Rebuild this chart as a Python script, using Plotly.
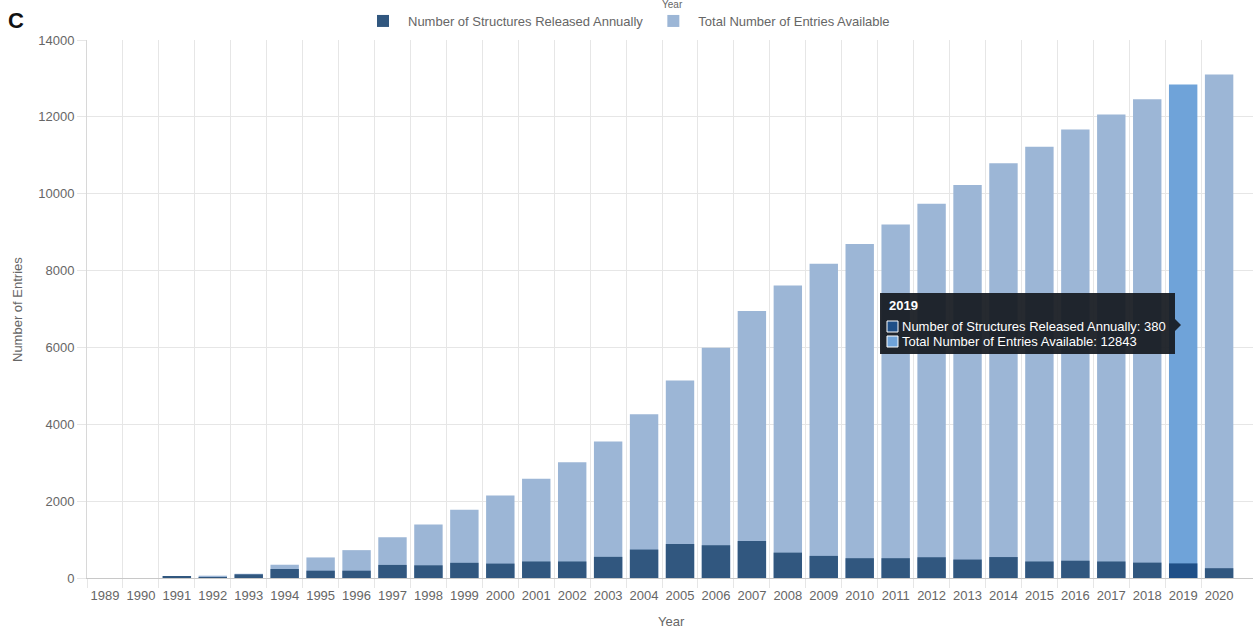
import plotly.graph_objects as go

years = list(range(1989, 2021))
annual = [0, 0, 40, 20, 95, 235, 190, 190, 340, 330, 395, 375, 430, 430, 550, 740,
          885, 850, 965, 660, 575, 515, 515, 540, 480, 545, 430, 450, 430, 400, 380, 255]
total = [0, 0, 40, 60, 110, 345, 535, 725, 1060, 1390, 1775, 2150, 2580, 3010, 3550, 4260,
         5140, 5990, 6950, 7610, 8180, 8690, 9200, 9740, 10230, 10790, 11220, 11670, 12060, 12460, 12843, 13100]
annual_name = "Number of Structures Released Annually"
total_name = "Total Number of Entries Available"
highlight_year = 2019

DARK, LIGHT = "#31577f", "#9cb6d6"
DARK_HI, LIGHT_HI = "#1f4f87", "#6fa3d9"
TIP_BG = "rgba(22,26,32,0.93)"

W, H = 1253, 628
ML, MR, MT, MB = 87, 0, 40, 50
PW, PH = W - ML - MR, H - MT - MB
CELL = 35.94  # pixel width of one year category
x_lo = years[0] - 0.5
x_hi = x_lo + PW / CELL


def px(xp):
    return (xp - ML) / PW


def py(yp):
    return (H - MB - yp) / PH


hi_idx = years.index(highlight_year)
dark_colors = [DARK_HI if y == highlight_year else DARK for y in years]
light_colors = [LIGHT_HI if y == highlight_year else LIGHT for y in years]

fig = go.Figure()
fig.add_trace(go.Bar(x=years, y=total, name=total_name, marker=dict(color=light_colors, line=dict(width=0)),
                     legendrank=2))
fig.add_trace(go.Bar(x=years, y=annual, name=annual_name, marker=dict(color=dark_colors, line=dict(width=0)),
                     legendrank=1))

grid = "#e6e6e6"
font_fam = "Arial, Liberation Sans, sans-serif"
fig.update_layout(
    width=W, height=H,
    barmode="overlay", bargap=0.21,
    margin=dict(l=ML, r=MR, t=MT, b=MB, autoexpand=False),
    paper_bgcolor="white", plot_bgcolor="white",
    font=dict(family=font_fam, size=13, color="#666"),
    legend=dict(orientation="h", xref="container", x=0.5, xanchor="center",
                yref="container", y=1 - 21 / H, yanchor="middle",
                font=dict(size=13, color="#666"), itemwidth=40, traceorder="normal"),
    showlegend=True,
)
fig.update_xaxes(
    range=[x_lo, x_hi], tickmode="array", tickvals=years, ticktext=[str(y) for y in years],
    showgrid=False, ticks="", tickfont=dict(size=13, color="#666"),
    ticklabelstandoff=5,
    minor=dict(tickmode="array", tickvals=[y - 0.5 for y in years], showgrid=True, gridcolor=grid,
               ticks="outside", ticklen=9, tickcolor=grid),
    showline=True, linecolor="#c8c8c8", linewidth=1,
    zeroline=False, automargin=False,
)
fig.update_yaxes(
    range=[0, 14000], tickmode="linear", tick0=0, dtick=2000, tickformat="d",
    showgrid=True, gridcolor=grid, ticks="outside", ticklen=9, tickcolor=grid,
    showline=True, linecolor="#d8d8d8", zeroline=False,
    tickfont=dict(size=13, color="#666"), automargin=False,
)

# axis titles
fig.add_annotation(text="Year", xref="paper", yref="paper", x=px(671), y=py(621),
                   xanchor="center", yanchor="middle", showarrow=False,
                   font=dict(size=13, color="#666", family=font_fam))
fig.add_annotation(text="Number of Entries", xref="paper", yref="paper", x=px(17), y=py(310),
                   xanchor="center", yanchor="middle", showarrow=False, textangle=-90,
                   font=dict(size=13, color="#666", family=font_fam))
# panel label
fig.add_annotation(text="<b>C</b>", xref="paper", yref="paper", x=px(6), y=py(20),
                   xanchor="left", yanchor="middle", showarrow=False,
                   font=dict(size=22, color="#111", family=font_fam))
# top axis title (cut at the top edge in the source)
fig.add_annotation(text="Year", xref="paper", yref="paper", x=px(672), y=py(5),
                   xanchor="center", yanchor="middle", showarrow=False,
                   font=dict(size=10, color="#666", family=font_fam))

# tooltip box
bx0, bx1, by0, by1 = 880, 1175, 293, 354
fig.add_shape(type="rect", xref="paper", yref="paper", x0=px(bx0), x1=px(bx1), y0=py(by1), y1=py(by0),
              fillcolor=TIP_BG, line=dict(width=0), layer="above")
fig.add_shape(type="path", xref="paper", yref="paper",
              path=f"M {px(bx1)} {py(319)} L {px(bx1 + 6)} {py(325)} L {px(bx1)} {py(331)} Z",
              fillcolor=TIP_BG, line=dict(width=0), layer="above")
fig.add_annotation(text=f"<b>{highlight_year}</b>", xref="paper", yref="paper", x=px(887), y=py(305),
                   xanchor="left", yanchor="middle", showarrow=False,
                   font=dict(size=13, color="white", family=font_fam))
tip_rows = [(f"{annual_name}: {annual[hi_idx]}", DARK_HI, 326),
            (f"{total_name}: {total[hi_idx]}", LIGHT_HI, 341)]
for txt, col, yc in tip_rows:
    fig.add_shape(type="rect", xref="paper", yref="paper", x0=px(887), x1=px(898), y0=py(yc + 6), y1=py(yc - 5),
                  fillcolor=col, line=dict(color="white", width=1), layer="above")
    fig.add_annotation(text=txt, xref="paper", yref="paper", x=px(900), y=py(yc),
                       xanchor="left", yanchor="middle", showarrow=False,
                       font=dict(size=13, color="white", family=font_fam))

fig.write_html("out.html", config={"displayModeBar": False},
               post_script="document.body.style.margin='0';document.body.style.overflow='hidden';")
